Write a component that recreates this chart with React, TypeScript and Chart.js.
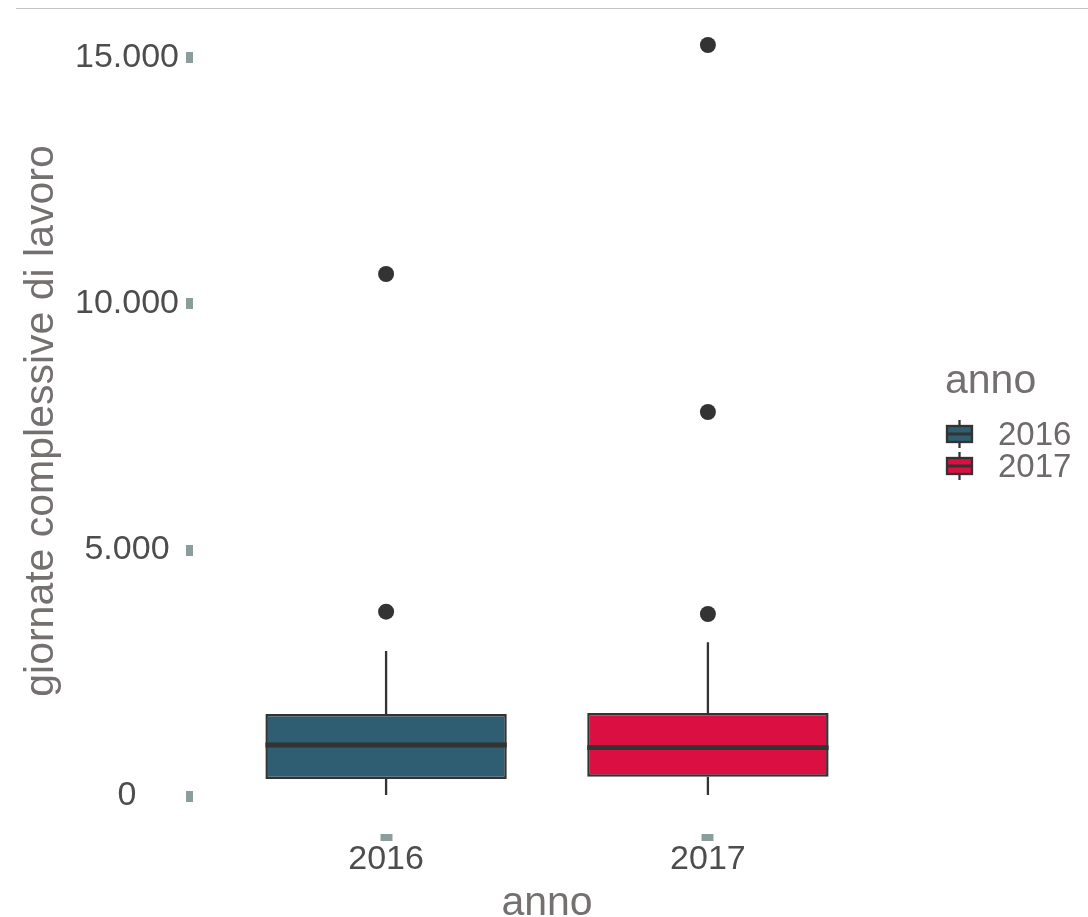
import React, { useEffect, useRef } from 'react';
import { Chart, registerables } from 'chart.js';

Chart.register(...registerables);

const categories = ['2016', '2017'];
const lowerWhisker = [20, 20];
const firstQuartile = [345, 392];
const medianValues = [1037, 982];
const thirdQuartile = [1667, 1687];
const upperWhisker = [2947, 3124];
const outliers2016 = [3746, 10610];
const outliers2017 = [3699, 7805, 15264];
const outlierSets = [outliers2016, outliers2017];
const boxColors = ['#2f5d71', '#dc0f43'];
const yTickValues = [0, 5000, 10000, 15000];
const xTitle = 'anno';
const yTitle = 'giornate complessive di lavoro';
const legendTitle = 'anno';

const FONT = "'Liberation Sans', Arial, Helvetica, sans-serif";
const LINE = '#333333';
const TITLE_COLOR = '#757070';
const TICK_COLOR = '#4d4d4d';
const TICKMARK_COLOR = '#8c9e9b';

const fmt = (v: number) => String(v).replace(/\B(?=(\d{3})+(?!\d))/g, '.');

const boxPlugin = {
  id: 'boxParts',
  beforeDraw(chart: any) {
    const ctx = chart.ctx;
    ctx.save();
    ctx.strokeStyle = '#c4c4c4';
    ctx.lineWidth = 1;
    ctx.beginPath();
    ctx.moveTo(16, chart.chartArea.top + 0.5);
    ctx.lineTo(chart.width, chart.chartArea.top + 0.5);
    ctx.stroke();
    ctx.restore();
  },
  afterDatasetsDraw(chart: any) {
    const ctx = chart.ctx;
    const y = chart.scales.y;
    const meta = chart.getDatasetMeta(0);
    ctx.save();
    ctx.strokeStyle = LINE;
    categories.forEach((_, i) => {
      const el = meta.data[i];
      if (!el) return;
      const cx = el.x;
      const half = el.width / 2;
      ctx.lineWidth = 2.3;
      ctx.beginPath();
      ctx.moveTo(cx, y.getPixelForValue(thirdQuartile[i]));
      ctx.lineTo(cx, y.getPixelForValue(upperWhisker[i]));
      ctx.moveTo(cx, y.getPixelForValue(firstQuartile[i]));
      ctx.lineTo(cx, y.getPixelForValue(lowerWhisker[i]));
      ctx.stroke();
      ctx.lineWidth = 4.8;
      ctx.beginPath();
      const my = y.getPixelForValue(medianValues[i]);
      ctx.moveTo(cx - half, my);
      ctx.lineTo(cx + half, my);
      ctx.stroke();
    });
    ctx.restore();
  },
  afterDraw(chart: any) {
    const ctx = chart.ctx;
    const left = chart.chartArea.right + 44;
    ctx.save();
    ctx.fillStyle = TITLE_COLOR;
    ctx.textBaseline = 'alphabetic';
    ctx.textAlign = 'left';
    ctx.font = `41px ${FONT}`;
    ctx.fillText(legendTitle, left, 393);
    categories.forEach((cat, i) => {
      const top = 420 + i * 32;
      const gx = left + 2;
      const gw = 25;
      const cx = gx + gw / 2;
      ctx.strokeStyle = LINE;
      ctx.lineWidth = 2.3;
      ctx.beginPath();
      ctx.moveTo(cx, top);
      ctx.lineTo(cx, top + 28);
      ctx.stroke();
      ctx.fillStyle = boxColors[i];
      ctx.fillRect(gx, top + 6, gw, 16);
      ctx.strokeRect(gx, top + 6, gw, 16);
      ctx.lineWidth = 3;
      ctx.beginPath();
      ctx.moveTo(gx, top + 14);
      ctx.lineTo(gx + gw, top + 14);
      ctx.stroke();
      ctx.fillStyle = '#6e6a6a';
      ctx.font = `33px ${FONT}`;
      ctx.fillText(cat, left + 53, top + 25);
    });
    ctx.restore();
  },
};

export default function App() {
  const ref = useRef<HTMLCanvasElement | null>(null);
  useEffect(() => {
    if (!ref.current) return;
    const boxData = categories.map((_, i) => ({ x: i + 1, y: [firstQuartile[i], thirdQuartile[i]] }));
    const outlierData = outlierSets.flatMap((arr, i) => arr.map((v) => ({ x: i + 1, y: v })));
    const chart = new Chart(ref.current, {
      type: 'bar',
      data: {
        datasets: [
          {
            type: 'bar',
            label: 'box',
            data: boxData as any,
            backgroundColor: boxColors,
            borderColor: LINE,
            borderWidth: 2.5,
            borderSkipped: false,
            barPercentage: 1,
            categoryPercentage: 0.75,
            order: 2,
          } as any,
          {
            type: 'scatter',
            label: 'outliers',
            data: outlierData as any,
            backgroundColor: LINE,
            borderWidth: 0,
            pointRadius: 8,
            order: 1,
          } as any,
        ],
      },
      options: {
        animation: false,
        responsive: false,
        devicePixelRatio: 1,
        layout: { padding: { top: 8, right: 187, bottom: 0, left: 0 } },
        plugins: { legend: { display: false }, tooltip: { enabled: false } },
        scales: {
          x: {
            type: 'linear',
            min: 0.4,
            max: 2.6,
            offset: false,
            afterBuildTicks: (s: any) => {
              s.ticks = categories.map((_, i) => ({ value: i + 1 }));
            },
            afterFit: (s: any) => {
              s.height = 83;
              s.paddingLeft = 0;
              s.paddingRight = 0;
            },
            ticks: {
              callback: (v: any) => categories[Math.round(Number(v)) - 1] ?? '',
              font: { family: FONT, size: 34, lineHeight: 1 },
              color: TICK_COLOR,
              padding: 2,
              maxRotation: 0,
              autoSkip: false,
            },
            grid: {
              display: true,
              drawOnChartArea: false,
              drawTicks: true,
              offset: false,
              tickLength: 7,
              tickWidth: 12,
              tickColor: TICKMARK_COLOR,
            },
            border: { display: false },
            title: {
              display: true,
              text: xTitle,
              font: { family: FONT, size: 41, lineHeight: 1 },
              color: TITLE_COLOR,
              padding: { top: 0, bottom: -7 },
            },
          },
          y: {
            type: 'linear',
            min: -772,
            max: 16016,
            afterBuildTicks: (s: any) => {
              s.ticks = yTickValues.map((v) => ({ value: v }));
            },
            afterFit: (s: any) => {
              s.width = 193;
              s.paddingTop = 0;
              s.paddingBottom = 0;
            },
            ticks: {
              callback: (v: any) => fmt(Number(v)),
              font: { family: FONT, size: 34 },
              color: TICK_COLOR,
              padding: 7,
              crossAlign: 'center',
            },
            grid: {
              display: true,
              drawOnChartArea: false,
              drawTicks: true,
              offset: false,
              tickLength: 7,
              tickWidth: 11,
              tickColor: TICKMARK_COLOR,
            },
            border: { display: false },
            title: {
              display: true,
              text: yTitle,
              font: { family: FONT, size: 41, lineHeight: 1 },
              color: TITLE_COLOR,
              padding: { top: 21, bottom: 0 },
            },
          },
        },
      } as any,
      plugins: [boxPlugin],
    });
    return () => chart.destroy();
  }, []);
  return (
    <div style={{ position: 'absolute', left: 0, top: 0, width: 1088, height: 917, background: '#ffffff' }}>
      <canvas ref={ref} width={1088} height={917} style={{ display: 'block', width: 1088, height: 917 }} />
    </div>
  );
}
